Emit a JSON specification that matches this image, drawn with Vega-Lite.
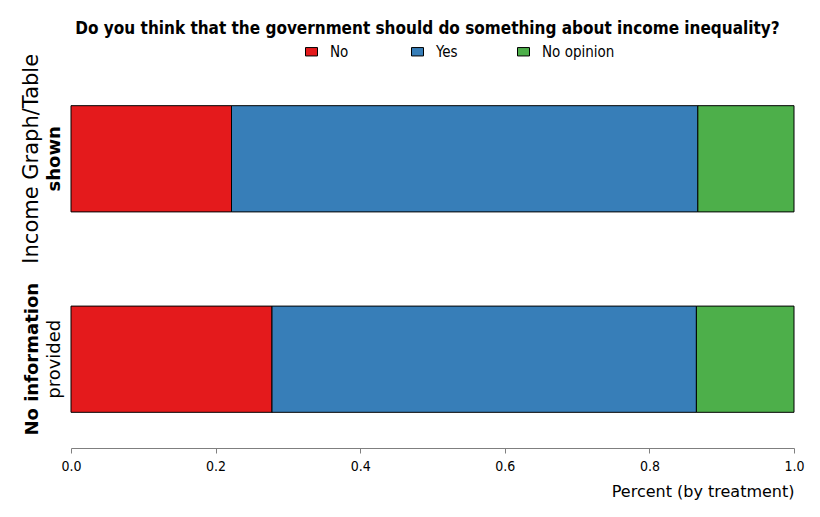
{
  "$schema": "https://vega.github.io/schema/vega-lite/v6.json",
  "width": 723,
  "height": 378,
  "autosize": {"type": "none"},
  "padding": {"left": 71, "top": 70, "right": 26, "bottom": 69},
  "background": "white",
  "title": {
    "text": "Do you think that the government should do something about income inequality?",
    "font": "DejaVu Sans Condensed",
    "fontSize": 17,
    "fontWeight": "bold",
    "color": "black",
    "anchor": "middle",
    "frame": "group",
    "baseline": "alphabetic",
    "offset": -7,
    "dx": -5
  },
  "config": {
    "view": {"stroke": null},
    "axis": {"grid": false}
  },
  "data": {
    "values": [
      {"treatment": "A", "response": "No", "ord": 1, "value": 0.222},
      {"treatment": "A", "response": "Yes", "ord": 2, "value": 0.645},
      {"treatment": "A", "response": "No opinion", "ord": 3, "value": 0.133},
      {"treatment": "B", "response": "No", "ord": 1, "value": 0.278},
      {"treatment": "B", "response": "Yes", "ord": 2, "value": 0.587},
      {"treatment": "B", "response": "No opinion", "ord": 3, "value": 0.135}
    ]
  },
  "layer": [
    {
      "mark": {"type": "bar", "stroke": "black", "strokeWidth": 1, "opacity": 1},
      "encoding": {
        "y": {
          "field": "treatment",
          "type": "nominal",
          "sort": ["A", "B"],
          "scale": {"paddingInner": 0.47, "paddingOuter": 0.178},
          "axis": {
            "title": null,
            "domain": false,
            "ticks": false,
            "tickSize": 0,
            "labelAngle": 270,
            "labelAlign": "center",
            "labelBaseline": "bottom",
            "labelPadding": 8,
            "labelLimit": 0,
            "labelFont": "DejaVu Sans",
            "labelFontSize": 18,
            "labelColor": "black",
            "labelExpr": "datum.value == 'A' ? 'shown' : 'provided'",
            "labelFontWeight": {"condition": {"test": "datum.value == 'A'", "value": "bold"}, "value": "normal"}
          }
        },
        "x": {
          "field": "value",
          "type": "quantitative",
          "stack": "zero",
          "scale": {"domain": [0, 1], "nice": false},
          "axis": {
            "title": "Percent (by treatment)",
            "values": [0, 0.2, 0.4, 0.6, 0.8, 1],
            "format": ".1f",
            "domainColor": "#7f7f7f",
            "tickColor": "#7f7f7f",
            "tickSize": 5,
            "labelFont": "DejaVu Sans Condensed",
            "labelFontSize": 14,
            "labelColor": "black",
            "labelPadding": 6,
            "labelFlush": false,
            "titleFont": "DejaVu Sans",
            "titleFontSize": 16,
            "titleFontWeight": "normal",
            "titleColor": "black",
            "titleAnchor": "end",
            "titlePadding": 10
          }
        },
        "color": {
          "field": "response",
          "type": "nominal",
          "scale": {"domain": ["No", "Yes", "No opinion"], "range": ["#e41a1c", "#377eb8", "#4daf4a"]},
          "legend": {
            "title": null,
            "orient": "none",
            "legendX": 233,
            "legendY": -26,
            "direction": "horizontal",
            "columns": 3,
            "gridAlign": "all",
            "columnPadding": 6,
            "symbolType": "M-1,-0.7H1V0.7H-1Z",
            "symbolSize": 144,
            "symbolStrokeColor": "black",
            "symbolStrokeWidth": 1,
            "symbolOpacity": 1,
            "labelOffset": 11,
            "labelFont": "DejaVu Sans Condensed",
            "labelFontSize": 15,
            "labelColor": "black"
          }
        },
        "order": {"field": "ord"}
      }
    },
    {
      "mark": {"type": "text"},
      "encoding": {
        "y": {
          "field": "treatment",
          "type": "nominal",
          "sort": ["A", "B"],
          "axis": {
            "title": null,
            "orient": "left",
            "domain": false,
            "ticks": false,
            "tickSize": 0,
            "labelAngle": 270,
            "labelAlign": "center",
            "labelBaseline": "bottom",
            "labelPadding": 30,
            "labelLimit": 0,
            "labelFont": "DejaVu Sans",
            "labelFontSize": {"condition": {"test": "datum.value == 'A'", "value": 21}, "value": 18},
            "labelColor": "black",
            "labelExpr": "datum.value == 'A' ? 'Income Graph/Table' : 'No information'",
            "labelFontWeight": {"condition": {"test": "datum.value == 'B'", "value": "bold"}, "value": "normal"}
          }
        },
        "text": {"value": ""}
      }
    }
  ],
  "resolve": {"axis": {"y": "independent"}}
}
